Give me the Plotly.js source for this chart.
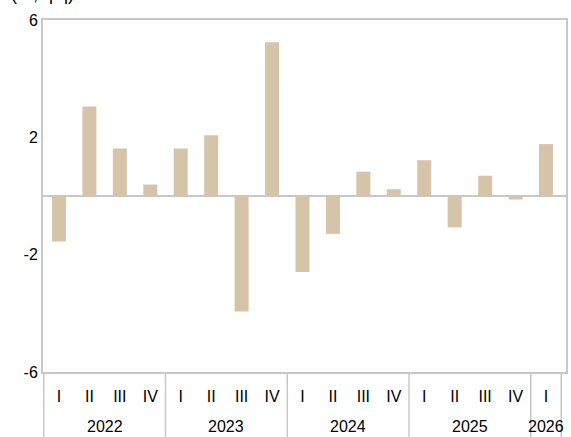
<!DOCTYPE html>
<html>
<head>
<meta charset="utf-8">
<script src="https://cdn.plot.ly/plotly-3.0.1.min.js"></script>
<style>html,body{margin:0;padding:0;background:#fff;}#chart{width:571px;height:437px;}</style>
</head>
<body>
<div id="chart"></div>
<script>
const years = ["2022","2022","2022","2022","2023","2023","2023","2023","2024","2024","2024","2024","2025","2025","2025","2025","2026"];
const quarters = ["I","II","III","IV","I","II","III","IV","I","II","III","IV","I","II","III","IV","I"];
const values = [-1.55, 3.05, 1.62, 0.39, 1.62, 2.07, -3.94, 5.24, -2.59, -1.29, 0.83, 0.23, 1.22, -1.07, 0.69, -0.12, 1.77];
const yTicks = [-6, -2, 2, 6];
const unitLabel = "(%, q/q)";

const cats = years.map((y, i) => y + " " + quarters[i]);

// year groups
const groups = [];
years.forEach((y, i) => {
  const g = groups[groups.length - 1];
  if (g && g.year === y) g.last = i; else groups.push({year: y, first: i, last: i});
});

const lineColor = "#C8C8C8";
const bottomDepth = 65 / 352;

const shapes = [];
groups.forEach((g, k) => {
  if (k === 0) {
    shapes.push({type: "line", xref: "x", yref: "paper", x0: g.first - 0.5, x1: g.first - 0.5, y0: 0, y1: -bottomDepth, line: {color: lineColor, width: 1.5}});
  }
  shapes.push({type: "line", xref: "x", yref: "paper", x0: g.last + 0.5, x1: g.last + 0.5, y0: 0, y1: -bottomDepth, line: {color: lineColor, width: 1.5}});
});

const annotations = groups.map(g => ({
  text: g.year,
  xref: "x", yref: "paper",
  x: (g.first + g.last) / 2,
  y: -54 / 352,
  xanchor: "center", yanchor: "middle",
  showarrow: false,
  font: {size: 16, color: "#000"}
}));
annotations.push({
  text: unitLabel,
  xref: "paper", yref: "paper",
  x: -0.065, y: 1.0, xanchor: "left", yanchor: "bottom",
  yshift: 14,
  showarrow: false,
  font: {size: 18, color: "#000"}
});

const trace = {
  type: "bar",
  x: cats,
  y: values,
  marker: {color: "#D6C4A8"},
  hoverinfo: "skip"
};

const layout = {
  width: 571,
  height: 437,
  margin: {l: 43, r: 5, t: 20, b: 65},
  paper_bgcolor: "#ffffff",
  plot_bgcolor: "#ffffff",
  showlegend: false,
  bargap: 0.54,
  font: {family: "Liberation Sans, Arial, sans-serif", size: 16, color: "#000"},
  xaxis: {
    type: "category",
    tickvals: cats,
    ticktext: quarters,
    tickangle: 0,
    showline: true,
    linecolor: lineColor,
    linewidth: 2,
    mirror: true,
    showgrid: false,
    ticks: "",
    ticklabelstandoff: 9,
    tickfont: {size: 16}
  },
  yaxis: {
    range: [-6, 6],
    tickvals: yTicks,
    ticktext: yTicks.map(String),
    showline: true,
    linecolor: lineColor,
    linewidth: 2,
    mirror: true,
    showgrid: false,
    zeroline: true,
    zerolinecolor: lineColor,
    zerolinewidth: 2,
    ticks: "",
    tickfont: {size: 16}
  },
  shapes: shapes,
  annotations: annotations
};

Plotly.newPlot("chart", [trace], layout, {displayModeBar: false, staticPlot: true});
</script>
</body>
</html>
